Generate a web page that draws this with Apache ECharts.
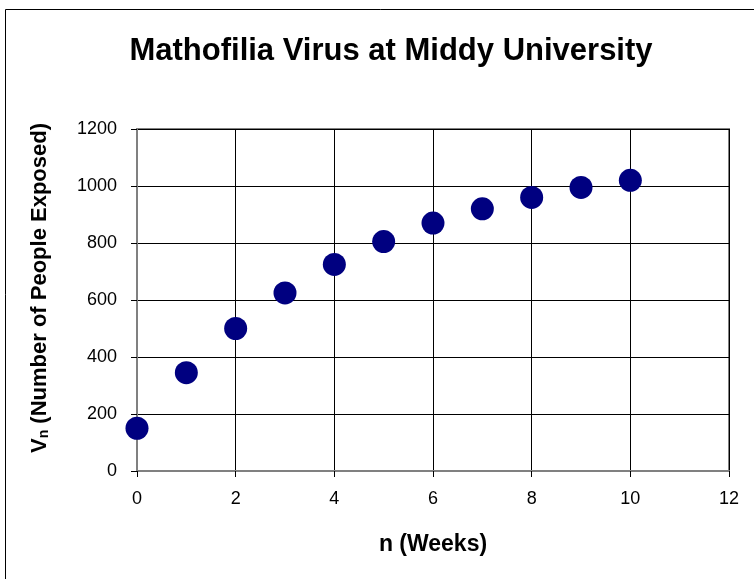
<!DOCTYPE html>
<html>
<head>
<meta charset="utf-8">
<script src="https://cdn.jsdelivr.net/npm/echarts@6/dist/echarts.min.js"></script>
<style>
  html, body { margin: 0; padding: 0; background: #fff; }
  #chart { width: 754px; height: 579px; }
</style>
</head>
<body>
<div id="chart"></div>
<script>
// weeks and people exposed
const weeks = [0, 1, 2, 3, 4, 5, 6, 7, 8, 9, 10];
const exposed = [150, 345, 500, 625, 725, 805, 870, 920, 960, 995, 1020];
const xTicks = [0, 2, 4, 6, 8, 10, 12];
const yTicks = [0, 200, 400, 600, 800, 1000, 1200];

const font = "'Liberation Sans', Arial, sans-serif";

let chart = echarts.init(document.getElementById("chart"));
let option = {
  backgroundColor: "#fff",
  animation: false,
  title: {
    text: "Mathofilia Virus at Middy University",
    left: 386,
    textAlign: "center",
    top: 31,
    textStyle: {
      fontFamily: font,
      fontSize: 31,
      fontWeight: "bold",
      color: "#000",
    },
  },
  graphic: [
    {
      type: "rect",
      shape: { x: 5.5, y: 9.5, width: 800, height: 620 },
      style: { fill: "none", stroke: "#000", lineWidth: 1 },
      silent: true,
    },
  ],
  grid: {
    left: 137,
    right: 25,
    top: 129,
    bottom: 108,
    show: true,
    borderColor: "#808080",
    borderWidth: 2,
  },
  xAxis: {
    type: "value",
    min: xTicks[0],
    max: xTicks[xTicks.length - 1],
    interval: 2,
    name: "n (Weeks)",
    nameLocation: "middle",
    nameGap: 62,
    nameTextStyle: {
      fontFamily: font,
      fontSize: 23,
      fontWeight: "bold",
      color: "#000",
    },
    axisLine: { show: true, onZero: false, lineStyle: { color: "#808080", width: 2 } },
    axisTick: { show: true, length: 6, lineStyle: { color: "#000" } },
    splitLine: { show: true, lineStyle: { color: "#000", width: 1 } },
    axisLabel: {
      margin: 19,
      fontFamily: font,
      fontSize: 18,
      color: "#000",
      formatter: (v) => String(v),
    },
  },
  yAxis: {
    type: "value",
    min: yTicks[0],
    max: yTicks[yTicks.length - 1],
    interval: 200,
    name: "{v|V}{sub|n}{t| (Number of People Exposed)}",
    nameLocation: "middle",
    nameGap: 86,
    nameTextStyle: {
      fontFamily: font,
      fontSize: 22,
      fontWeight: "bold",
      color: "#000",
      padding: [0, 0, 0, 24],
      rich: {
        v: { fontFamily: font, fontSize: 22, fontWeight: "bold", color: "#000", lineHeight: 28, verticalAlign: "bottom" },
        sub: { fontFamily: font, fontSize: 14, fontWeight: "bold", color: "#000", lineHeight: 22, verticalAlign: "bottom" },
        t: { fontFamily: font, fontSize: 22, fontWeight: "bold", color: "#000", lineHeight: 28, verticalAlign: "bottom" },
      },
    },
    axisLine: { show: true, lineStyle: { color: "#808080", width: 2 } },
    axisTick: { show: true, length: 6, lineStyle: { color: "#000" } },
    splitLine: { show: true, lineStyle: { color: "#000", width: 1 } },
    axisLabel: {
      margin: 20,
      fontFamily: font,
      fontSize: 18,
      color: "#000",
      formatter: (v) => String(v),
    },
  },
  series: [
    {
      type: "scatter",
      data: weeks.map((w, i) => [w, exposed[i]]),
      symbol: "circle",
      symbolSize: 23,
      itemStyle: { color: "#000080", opacity: 1 },
      clip: false,
    },
  ],
};
chart.setOption(option);
</script>
</body>
</html>
